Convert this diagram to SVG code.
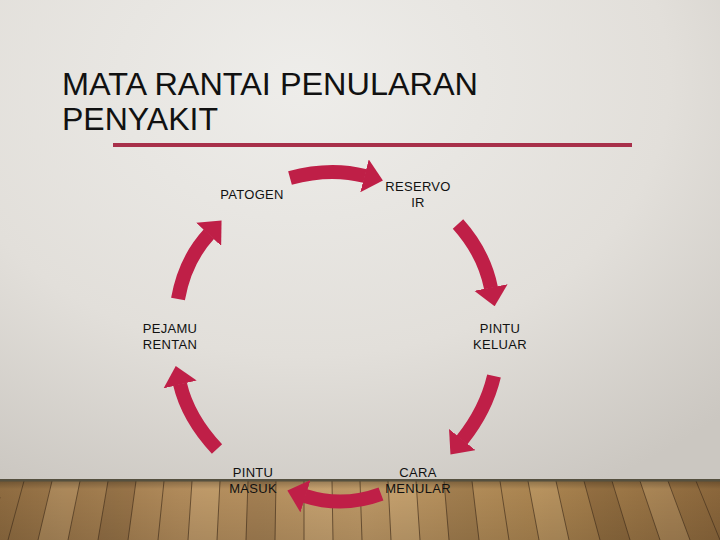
<svg xmlns="http://www.w3.org/2000/svg" width="720" height="540" viewBox="0 0 720 540">
<defs>
<radialGradient id="bg" cx="0.42" cy="0.15" r="0.85">
<stop offset="0" stop-color="#EEEDEA"/>
<stop offset="0.6" stop-color="#E2DFDA"/>
<stop offset="1" stop-color="#CBC7C1"/>
</radialGradient>
<linearGradient id="wood" x1="0" y1="0" x2="1" y2="0">
<stop offset="0" stop-color="#8E6B40"/>
<stop offset="0.25" stop-color="#B08A5A"/>
<stop offset="0.5" stop-color="#BD9866"/>
<stop offset="0.75" stop-color="#A9834F"/>
<stop offset="1" stop-color="#8A663B"/>
</linearGradient>
<linearGradient id="floorShade" x1="0" y1="0" x2="0" y2="1">
<stop offset="0" stop-color="#000" stop-opacity="0.25"/>
<stop offset="0.15" stop-color="#000" stop-opacity="0"/>
<stop offset="1" stop-color="#000" stop-opacity="0.1"/>
</linearGradient>
<marker id="head" markerUnits="userSpaceOnUse" markerWidth="19" markerHeight="34" viewBox="0 0 19 34" refX="0.5" refY="17" orient="auto">
<path d="M0,0 L19,17 L0,34 z" fill="#BF1F47"/>
</marker>
</defs>
<style>
.lbl{font-family:"Liberation Sans",Arial,sans-serif;font-size:13px;fill:#111;text-anchor:middle;letter-spacing:0.3px}
.title{font-family:"Liberation Sans Narrow","Liberation Sans",Arial,sans-serif;font-size:31px;fill:#111}
.arr{fill:none;stroke:#BF1F47;stroke-width:14;stroke-linecap:butt;marker-end:url(#head)}
.plank{stroke:#4A3520;stroke-width:1;stroke-opacity:0.7}
.lt{fill:#E8C894;fill-opacity:0.22}
.dk{fill:#3A2410;fill-opacity:0.15}
</style>
<rect x="0" y="0" width="720" height="540" fill="url(#bg)"/>
<g id="floor">
<rect x="0" y="480" width="720" height="60" fill="url(#wood)"/>
<polygon class="lt" points="52,481 80,481 68,540 38,540"/>
<polygon class="dk" points="108,481 136,481 128,540 98,540"/>
<polygon class="lt" points="192,481 220,481 217,540 188,540"/>
<polygon class="dk" points="248,481 276,481 275,540 246,540"/>
<polygon class="lt" points="304,481 332,481 333,540 304,540"/>
<polygon class="lt" points="388,481 416,481 420,540 391,540"/>
<polygon class="dk" points="444,481 472,481 479,540 449,540"/>
<polygon class="lt" points="528,481 556,481 569,540 539,540"/>
<polygon class="dk" points="584,481 612,481 630,540 600,540"/>
<polygon class="lt" points="640,481 668,481 690,540 660,540"/>
<g class="plank">
<line x1="0" y1="497" x2="-10" y2="540"/>
<line x1="24" y1="481" x2="8" y2="540"/>
<line x1="52" y1="481" x2="38" y2="540"/>
<line x1="80" y1="481" x2="68" y2="540"/>
<line x1="108" y1="481" x2="98" y2="540"/>
<line x1="136" y1="481" x2="128" y2="540"/>
<line x1="164" y1="481" x2="158" y2="540"/>
<line x1="192" y1="481" x2="188" y2="540"/>
<line x1="220" y1="481" x2="217" y2="540"/>
<line x1="248" y1="481" x2="246" y2="540"/>
<line x1="276" y1="481" x2="275" y2="540"/>
<line x1="304" y1="481" x2="304" y2="540"/>
<line x1="332" y1="481" x2="333" y2="540"/>
<line x1="360" y1="481" x2="362" y2="540"/>
<line x1="388" y1="481" x2="391" y2="540"/>
<line x1="416" y1="481" x2="420" y2="540"/>
<line x1="444" y1="481" x2="449" y2="540"/>
<line x1="472" y1="481" x2="479" y2="540"/>
<line x1="500" y1="481" x2="509" y2="540"/>
<line x1="528" y1="481" x2="539" y2="540"/>
<line x1="556" y1="481" x2="569" y2="540"/>
<line x1="584" y1="481" x2="600" y2="540"/>
<line x1="612" y1="481" x2="630" y2="540"/>
<line x1="640" y1="481" x2="660" y2="540"/>
<line x1="668" y1="481" x2="690" y2="540"/>
<line x1="696" y1="481" x2="720" y2="540"/>
</g>
<rect x="0" y="480" width="720" height="60" fill="url(#floorShade)"/>
<rect x="0" y="479" width="720" height="2.5" fill="#55503F"/>
</g>
<g id="title">
<text class="title" x="62" y="95" textLength="416" lengthAdjust="spacingAndGlyphs">MATA RANTAI PENULARAN</text>
<text class="title" x="62" y="130" textLength="156" lengthAdjust="spacingAndGlyphs">PENYAKIT</text>
<rect x="113" y="143" width="519" height="4" fill="#A8304A"/>
</g>
<g id="connectors">
<path class="arr" d="M290,178 Q330,167 365,176"/>
<path class="arr" d="M458,224 Q484,253 491,288"/>
<path class="arr" d="M494,376 Q486,410 462,440"/>
<path class="arr" d="M381,494 Q343,508 305,496"/>
<path class="arr" d="M217,449 Q188,418 180,384"/>
<path class="arr" d="M178,299 Q185,260 209,234"/>
</g>
<g id="node-patogen"><text class="lbl" x="252" y="199">PATOGEN</text></g>
<g id="node-reservoir"><text class="lbl" x="418" y="191">RESERVO</text><text class="lbl" x="418" y="207">IR</text></g>
<g id="node-pintu-keluar"><text class="lbl" x="500" y="333">PINTU</text><text class="lbl" x="500" y="349">KELUAR</text></g>
<g id="node-cara-menular"><text class="lbl" x="418" y="477">CARA</text><text class="lbl" x="418" y="493">MENULAR</text></g>
<g id="node-pintu-masuk"><text class="lbl" x="253" y="477">PINTU</text><text class="lbl" x="253" y="493">MASUK</text></g>
<g id="node-pejamu-rentan"><text class="lbl" x="170" y="333">PEJAMU</text><text class="lbl" x="170" y="349">RENTAN</text></g>
</svg>
